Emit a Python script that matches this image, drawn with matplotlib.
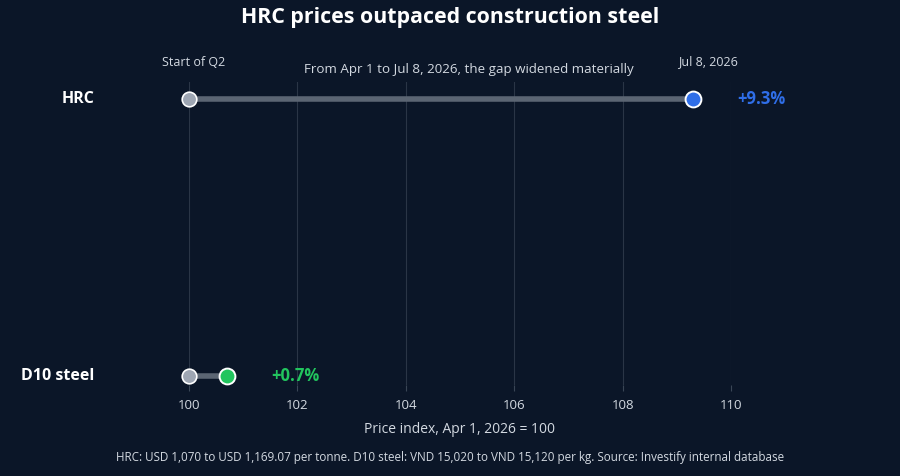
import matplotlib
matplotlib.use("Agg")
import matplotlib.pyplot as plt
from matplotlib import font_manager

# data
categories = ["D10 steel", "HRC"]
start_vals = [100, 100]
end_vals = [100.7, 109.3]
change_labels = ["+0.7%", "+9.3%"]
end_colors = ["#22c55e", "#2f6ee8"]
xticks = [100, 102, 104, 106, 108, 110]

bg = "#0b1628"
txt = "#d3d9e1"

# pick a family that has a real bold face
names = {f.name for f in font_manager.fontManager.ttflist if f.weight in (700, "bold")}
fam = "Open Sans" if "Open Sans" in names else ("Noto Sans" if "Noto Sans" in names else "DejaVu Sans")
plt.rcParams["font.family"] = [fam, "DejaVu Sans"]

fig = plt.figure(figsize=(9, 4.76), dpi=100, facecolor=bg)
W, H = 900, 476
ax = fig.add_axes([189 / W, 1 - 385 / H, 542 / W, 303 / H])
ax.set_facecolor(bg)

ypos = list(range(len(categories)))
for y, s, e, c, lab in zip(ypos, start_vals, end_vals, end_colors, change_labels):
    ax.plot([s, e], [y, y], color="#5b6573", lw=4, solid_capstyle="butt", zorder=2, clip_on=False)
    ax.scatter([s], [y], s=110, color="#9ea6b3", edgecolor="white", linewidth=1.2, zorder=3, clip_on=False)
    ax.scatter([e], [y], s=130, color=c, edgecolor="white", linewidth=1.4, zorder=4, clip_on=False)
    ax.annotate(lab, (e, y), xytext=(32, 0), textcoords="offset points", color=c,
                fontsize=12, fontweight="bold", va="center", ha="left", annotation_clip=False)

ax.set_xlim(100, 110)
ax.set_ylim(-0.0325, 1.061)
ax.set_xticks(xticks)
ax.set_xticklabels([str(t) for t in xticks], color=txt, fontsize=9.5)
ax.tick_params(axis="x", length=4, color="#3a4656", pad=6)
ax.set_yticks([])
ax.grid(axis="x", color="#2a3546", lw=0.8)
ax.set_axisbelow(True)
for sp in ax.spines.values():
    sp.set_visible(False)

for y, cat in zip(ypos, categories):
    ax.text(-0.175, y, cat, transform=ax.get_yaxis_transform(), ha="right", va="center",
            color="white", fontsize=11.5, fontweight="bold")

ax.set_xlabel("Price index, Apr 1, 2026 = 100", color=txt, fontsize=10, labelpad=7)

fig.text(0.5, 1 - 18 / H, "HRC prices outpaced construction steel", ha="center", va="center",
         color="white", fontsize=15.4, fontweight="bold")
fig.text(469 / W, 1 - 70 / H, "From Apr 1 to Jul 8, 2026, the gap widened materially", ha="center",
         va="center", color=txt, fontsize=9.6)
fig.text(194 / W, 1 - 62 / H, "Start of Q2", ha="center", va="center", color=txt, fontsize=9)
fig.text(708 / W, 1 - 62 / H, "Jul 8, 2026", ha="center", va="center", color=txt, fontsize=9)
fig.text(0.5, 1 - 457 / H,
         "HRC: USD 1,070 to USD 1,169.07 per tonne. D10 steel: VND 15,020 to VND 15,120 per kg. "
         "Source: Investify internal database",
         ha="center", va="center", color=txt, fontsize=8.4)

fig.savefig("out.png", dpi=100, facecolor=bg)
